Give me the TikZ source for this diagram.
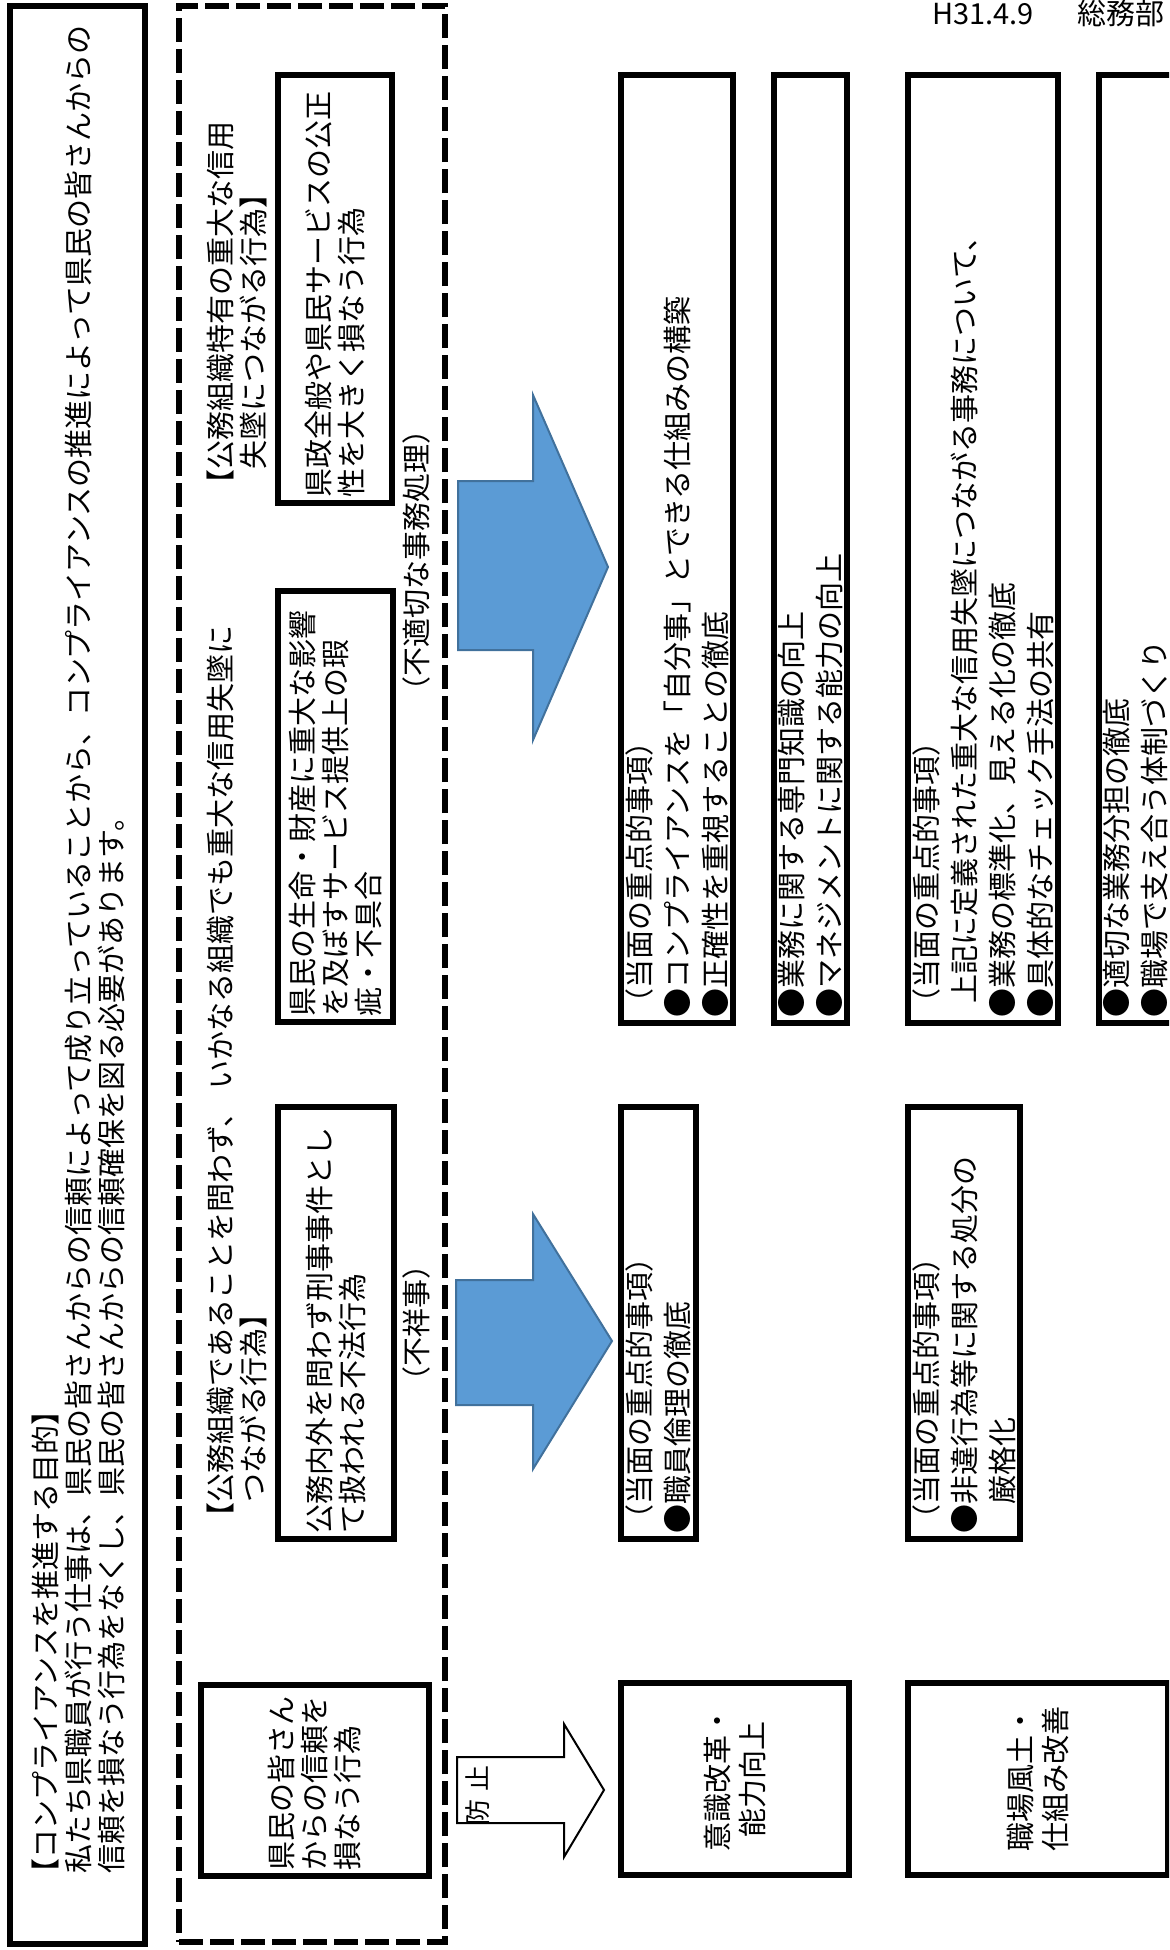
\documentclass[tikz,border=0pt]{standalone}
\usepackage{fontspec}
\setmainfont{Noto Sans CJK JP}
\definecolor{arrowblue}{HTML}{5B9BD5}
\definecolor{arrowedge}{HTML}{41719C}
\begin{document}
\begin{tikzpicture}[x=0.5pt,y=-0.5pt,
  every node/.style={inner sep=0pt, outer sep=0pt},
  jtext/.style={font=\fontsize{14.5pt}{16.5pt}\selectfont},
  jtextwide/.style={font=\fontsize{14.5pt}{19pt}\selectfont},
  framebox/.style={draw=black, line width=3pt, rotate=90},
  textbox/.style={framebox, align=left, inner xsep=3pt, inner ysep=0pt, jtext},
  itembox/.style={framebox, align=left, inner xsep=3pt, inner ysep=0pt, jtextwide},
  titlebox/.style={framebox, align=center, font=\fontsize{14.5pt}{17.5pt}\selectfont},
  dashbox/.style={draw=black, line width=3pt, dash pattern=on 12pt off 3.5pt},
  rottext/.style={rotate=90, align=left, jtext},
  bluearrow/.style={fill=arrowblue, draw=arrowedge, line width=1pt, line join=miter},
  whitearrow/.style={fill=white, draw=black, line width=1pt, line join=miter}
]
\useasboundingbox (0,0) rectangle (1169,1950);
\clip (0,0) rectangle (1169,1950);

% date
\node[anchor=base west, font=\fontsize{14.5pt}{16pt}\selectfont] (date) at (932,24) {H31.4.9\hspace{22pt}総務部};

% top purpose box
\node[framebox, minimum width=969pt, minimum height=67.5pt] (purpose) at (77.5,975) {};
\node[rottext, anchor=north west] (purposetext) at (31.5,1887)
 {【コンプライアンスを推進する目的】\\
  \hspace*{7pt}私たち県職員が行う仕事は、県民の皆さんからの信頼によって成り立っていることから、コンプライアンスの推進によって県民の皆さんからの\\
  \hspace*{7pt}信頼を損なう行為をなくし、県民の皆さんからの信頼確保を図る必要があります。};

% dashed area
\node[dashbox, minimum width=133pt, minimum height=968pt] (area) at (312,974) {};

\node[textbox, minimum width=95.5pt, minimum height=114pt, text width=89.5pt] (acts) at (315,1780.5)
 {県民の皆さん\\からの信頼を\\損なう行為};

\node[rottext, anchor=north west] (headleft) at (206.5,1531)
 {【公務組織であることを問わず、\hspace{0.3em}いかなる組織でも重大な信用失墜に\\　つながる行為】};
\node[rottext, anchor=north west] (headright) at (206.5,498)
 {【公務組織特有の重大な信用\\　失墜につながる行為】};

\node[textbox, minimum width=216pt, minimum height=58pt, text width=210pt] (illegal) at (336,1323)
 {公務内外を問わず刑事事件とし\\て扱われる不法行為};
\node[textbox, minimum width=215.5pt, minimum height=57.5pt, text width=209.5pt] (defect) at (335.5,806.5)
 {県民の生命・財産に重大な影響\\を及ぼすサービス提供上の瑕\\疵・不具合};
\node[textbox, minimum width=214pt, minimum height=57pt, text width=208pt] (fairness) at (335,289)
 {県政全般や県民サービスの公正\\性を大きく損なう行為};

\node[rottext, anchor=center] (fushoji) at (416,1323) {（不祥事）};
\node[rottext, anchor=center] (futekisetsu) at (416,560) {（不適切な事務処理）};

% arrows
\draw[bluearrow] (458,481) -- (533,481) -- (533,395) -- (608,567) -- (533,740) -- (533,650) -- (458,650) -- cycle;
\draw[bluearrow] (456,1280) -- (533,1280) -- (533,1214) -- (612,1341) -- (533,1469) -- (533,1405) -- (456,1405) -- cycle;
\draw[whitearrow] (457,1757) -- (564,1757) -- (564,1724) -- (604,1790) -- (564,1857) -- (564,1823) -- (457,1823) -- cycle;
\node[rotate=90, font=\fontsize{13pt}{15pt}\selectfont] (boushi) at (478,1795) {防\hspace{4pt}止};

% right side upper boxes
\node[itembox, minimum width=474pt, minimum height=56pt, text width=468pt] (r1) at (677,549)
 {（当面の重点的事項）\\●コンプライアンスを「自分事」とできる仕組みの構築\\●正確性を重視することの徹底};
\node[itembox, minimum width=474pt, minimum height=36.5pt, text width=468pt] (r2) at (810.5,549)
 {●業務に関する専門知識の向上\\●マネジメントに関する能力の向上};
\node[itembox, minimum width=474pt, minimum height=75pt, text width=468pt] (r3) at (983,549)
 {（当面の重点的事項）\\\hspace*{7pt}上記に定義された重大な信用失墜につながる事務について、\\●業務の標準化、見える化の徹底\\●具体的なチェック手法の共有};
\node[itembox, minimum width=474pt, minimum height=37pt, text width=468pt] (r4) at (1136,549)
 {●適切な業務分担の徹底\\●職場で支え合う体制づくり};

% right side lower boxes
\node[itembox, minimum width=216pt, minimum height=37.5pt, text width=210pt] (l1) at (658.5,1323)
 {（当面の重点的事項）\\●職員倫理の徹底};
\node[itembox, minimum width=216pt, minimum height=56pt, text width=210pt] (l3) at (964,1323)
 {（当面の重点的事項）\\●非違行為等に関する処分の\\　厳格化};

\node[titlebox, minimum width=96pt, minimum height=114pt] (b1) at (735,1779) {意識改革・\\能力向上};
\node[titlebox, minimum width=96pt, minimum height=130pt] (b3) at (1038,1779) {職場風土・\\仕組み改善};
\end{tikzpicture}
\end{document}
